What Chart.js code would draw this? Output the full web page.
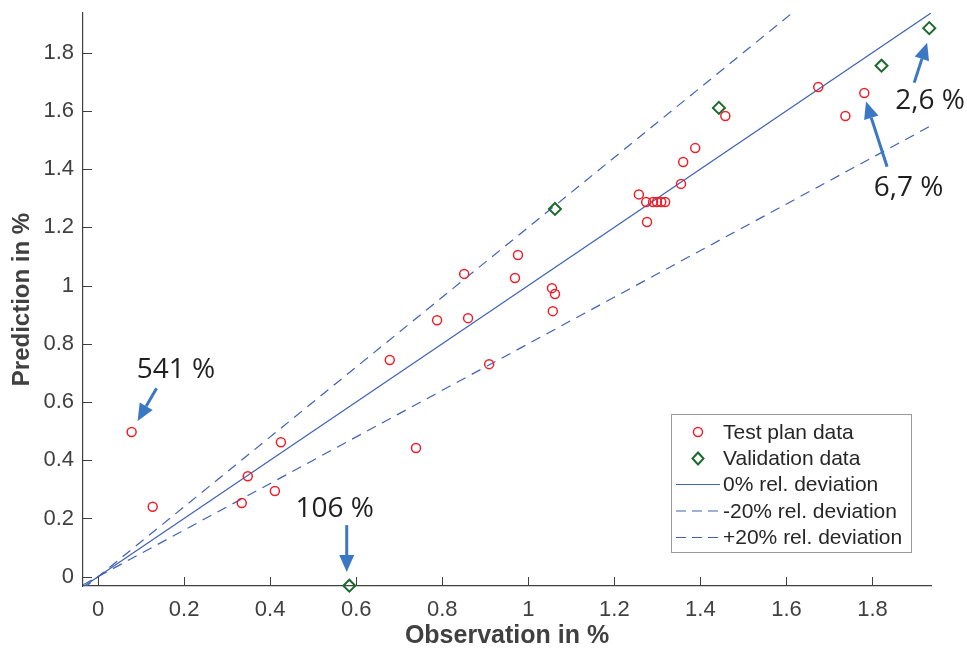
<!DOCTYPE html>
<html>
<head>
<meta charset="utf-8">
<script src="https://cdn.jsdelivr.net/npm/chart.js@4.4.1/dist/chart.umd.min.js"></script>
<style>
  html, body { margin: 0; padding: 0; background: #fff; }
</style>
</head>
<body>
<canvas id="myChart" width="967" height="651"></canvas>
<script>
// test plan data (observation / prediction in %)
const testObs  = [0.078, 0.127, 0.334, 0.348, 0.411, 0.425, 0.678, 0.739, 0.788, 0.851,
                  0.860, 0.909, 0.969, 0.976, 1.055, 1.062, 1.057, 1.257, 1.276, 1.274,
                  1.290, 1.299, 1.309, 1.318, 1.355, 1.360, 1.388, 1.458, 1.674, 1.737, 1.781];
const testPred = [0.497, 0.240, 0.253, 0.345, 0.294, 0.462, 0.744, 0.442, 0.881, 1.040,
                  0.888, 0.730, 1.026, 1.105, 0.991, 0.971, 0.912, 1.313, 1.218, 1.287,
                  1.287, 1.287, 1.287, 1.287, 1.349, 1.424, 1.472, 1.582, 1.682, 1.582, 1.661];

// validation data
const valObs  = [0.584, 1.062, 1.443, 1.821, 1.932];
const valPred = [-0.031, 1.263, 1.610, 1.755, 1.884];

// reference lines: slope of prediction vs observation
const lineLabels = ['0% rel. deviation', '-20% rel. deviation', '+20% rel. deviation'];
const lineSlopes = [1, 1.2, 0.8];

const xTicks = [0, 0.2, 0.4, 0.6, 0.8, 1, 1.2, 1.4, 1.6, 1.8];
const yTicks = [0, 0.2, 0.4, 0.6, 0.8, 1, 1.2, 1.4, 1.6, 1.8];
const xRange = [-0.035, 1.936];
const yRange = [-0.032, 1.936];

// callouts: label, text position, arrow start, arrow tip (data units)
const callouts = [
  { text: '541 %', at: [0.181, 0.710], from: [0.136, 0.647], to: [0.092, 0.535] },
  { text: '106 %', at: [0.550, 0.234], from: [0.578, 0.177], to: [0.578, 0.016] },
  { text: '6,7 %', at: [1.884, 1.334], from: [1.834, 1.408], to: [1.785, 1.632] },
  { text: '2,6 %', at: [1.934, 1.632], from: [1.897, 1.697], to: [1.927, 1.834] }
];

const family = "'Liberation Sans', Arial, sans-serif";
const axisColor = '#404040';
const lineBlue = '#3f62b6';
const red = '#ee1f2a';
const green = '#1c6a2c';
const arrowBlue = '#3b78c3';

function linePoints(slope) {
  const xEnd = Math.min(xRange[1], yRange[1] / slope);
  return [{ x: xRange[0], y: slope * xRange[0] }, { x: xEnd, y: slope * xEnd }];
}

const innerTicks = {
  id: 'innerTicks',
  afterDatasetsDraw(chart) {
    const { ctx, chartArea: a, scales: { x, y } } = chart;
    ctx.save();
    ctx.strokeStyle = axisColor;
    ctx.lineWidth = 1;
    xTicks.forEach(v => {
      const px = Math.round(x.getPixelForValue(v)) + 0.5;
      ctx.beginPath(); ctx.moveTo(px, a.bottom); ctx.lineTo(px, a.bottom - 9); ctx.stroke();
    });
    yTicks.forEach(v => {
      const py = Math.round(y.getPixelForValue(v)) + 0.5;
      ctx.beginPath(); ctx.moveTo(a.left, py); ctx.lineTo(a.left + 9, py); ctx.stroke();
    });
    ctx.restore();
  }
};

function drawArrow(ctx, x0, y0, x1, y1) {
  const ang = Math.atan2(y1 - y0, x1 - x0);
  const head = 17, half = 7.5;
  const bx = x1 - head * Math.cos(ang), by = y1 - head * Math.sin(ang);
  ctx.beginPath(); ctx.moveTo(x0, y0); ctx.lineTo(bx, by); ctx.stroke();
  ctx.beginPath();
  ctx.moveTo(x1, y1);
  ctx.lineTo(bx + half * Math.sin(ang), by - half * Math.cos(ang));
  ctx.lineTo(bx - half * Math.sin(ang), by + half * Math.cos(ang));
  ctx.closePath();
  ctx.fill();
}

const calloutPlugin = {
  id: 'callouts',
  afterDraw(chart) {
    const { ctx, scales: { x, y } } = chart;
    ctx.save();
    ctx.strokeStyle = arrowBlue;
    ctx.fillStyle = arrowBlue;
    ctx.lineWidth = 3;
    callouts.forEach(c => {
      drawArrow(ctx, x.getPixelForValue(c.from[0]), y.getPixelForValue(c.from[1]),
                x.getPixelForValue(c.to[0]), y.getPixelForValue(c.to[1]));
    });
    ctx.fillStyle = '#1f1f1f';
    ctx.font = "28px 'Open Sans', sans-serif";
    ctx.textAlign = 'center';
    ctx.textBaseline = 'middle';
    callouts.forEach(c => {
      ctx.fillText(c.text, x.getPixelForValue(c.at[0]), y.getPixelForValue(c.at[1]));
    });
    ctx.restore();
  }
};

const boxLegend = {
  id: 'boxLegend',
  afterDraw(chart) {
    const { ctx, chartArea: a } = chart;
    const right = a.right - 20, bottom = a.bottom - 34;
    const w = 240, h = 138;
    const left = right - w, top = bottom - h;
    ctx.save();
    ctx.fillStyle = '#fff';
    ctx.fillRect(left, top, w, h);
    ctx.strokeStyle = '#9a9a9a';
    ctx.lineWidth = 1;
    ctx.strokeRect(Math.round(left) + 0.5, Math.round(top) + 0.5, w, h);
    const rows = [top + 18, top + 44.5, top + 70.5, top + 97, top + 123.5];
    const mx = left + 27;
    // markers
    ctx.strokeStyle = red; ctx.lineWidth = 1.5;
    ctx.beginPath(); ctx.arc(mx, rows[0], 4.5, 0, Math.PI * 2); ctx.stroke();
    ctx.strokeStyle = green; ctx.lineWidth = 2;
    ctx.beginPath();
    ctx.moveTo(mx, rows[1] - 6); ctx.lineTo(mx + 5.5, rows[1]); ctx.lineTo(mx, rows[1] + 6); ctx.lineTo(mx - 5.5, rows[1]);
    ctx.closePath(); ctx.stroke();
    ctx.strokeStyle = lineBlue; ctx.lineWidth = 1.2;
    [[], [10, 6], [10, 6]].forEach((d, i) => {
      ctx.setLineDash(d);
      ctx.beginPath(); ctx.moveTo(left + 5, rows[i + 2]); ctx.lineTo(left + 49, rows[i + 2]); ctx.stroke();
    });
    ctx.setLineDash([]);
    ctx.fillStyle = '#262626';
    ctx.font = '21px ' + family;
    ctx.textBaseline = 'middle';
    const labels = ['Test plan data', 'Validation data'].concat(lineLabels);
    labels.forEach((t, i) => ctx.fillText(t, left + 52, rows[i] + 1));
    ctx.restore();
  }
};

const ctx = document.getElementById('myChart');

new Chart(ctx, {
  type: 'scatter',
  data: {
    datasets: [
      {
        label: 'Test plan data',
        data: testObs.map((v, i) => ({ x: v, y: testPred[i] })),
        pointStyle: 'circle',
        pointRadius: 4.5,
        borderColor: red,
        backgroundColor: 'rgba(0,0,0,0)',
        borderWidth: 1.5,
        clip: false
      },
      {
        label: 'Validation data',
        data: valObs.map((v, i) => ({ x: v, y: valPred[i] })),
        pointStyle: 'rectRot',
        pointRadius: 6,
        borderColor: green,
        backgroundColor: 'rgba(0,0,0,0)',
        borderWidth: 2,
        clip: false
      },
      ...lineSlopes.map((s, i) => ({
        type: 'line',
        label: lineLabels[i],
        data: linePoints(s),
        borderColor: lineBlue,
        borderWidth: 1.2,
        borderDash: i === 0 ? [] : [10, 7],
        pointRadius: 0,
        fill: false,
        showLine: true
      }))
    ]
  },
  options: {
    responsive: false,
    animation: false,
    events: [],
    layout: { padding: { top: 13, right: 36, left: 0, bottom: 0 } },
    plugins: { legend: { display: false }, tooltip: { enabled: false } },
    scales: {
      x: {
        type: 'linear',
        min: xRange[0],
        max: xRange[1],
        afterFit: s => { s.height = 65; s.paddingLeft = 0; s.paddingRight = 0; },
        afterBuildTicks: s => { s.ticks = xTicks.map(v => ({ value: v })); },
        grid: { display: false, drawTicks: false, tickLength: 0 },
        border: { display: true, color: axisColor, width: 1.2 },
        ticks: {
          color: axisColor, font: { family: family, size: 22 }, padding: 11,
          maxRotation: 0, autoSkip: false, callback: v => String(v)
        },
        title: {
          display: true, text: 'Observation in %', color: axisColor,
          font: { family: family, size: 25, weight: 'bold' }, padding: { top: 1, bottom: 0 }
        }
      },
      y: {
        type: 'linear',
        min: yRange[0],
        max: yRange[1],
        afterFit: s => { s.width = 83; s.paddingTop = 0; s.paddingBottom = 0; },
        afterBuildTicks: s => { s.ticks = yTicks.map(v => ({ value: v })); },
        grid: { display: false, drawTicks: false, tickLength: 0 },
        border: { display: true, color: axisColor, width: 1.2 },
        ticks: {
          color: axisColor, font: { family: family, size: 22 }, padding: 9,
          autoSkip: false, callback: v => String(v)
        },
        title: {
          display: true, text: 'Prediction in %', color: axisColor,
          font: { family: family, size: 24, weight: 'bold' }, padding: { top: 8, bottom: 0 }
        }
      }
    }
  },
  plugins: [innerTicks, calloutPlugin, boxLegend]
});
</script>
</body>
</html>
